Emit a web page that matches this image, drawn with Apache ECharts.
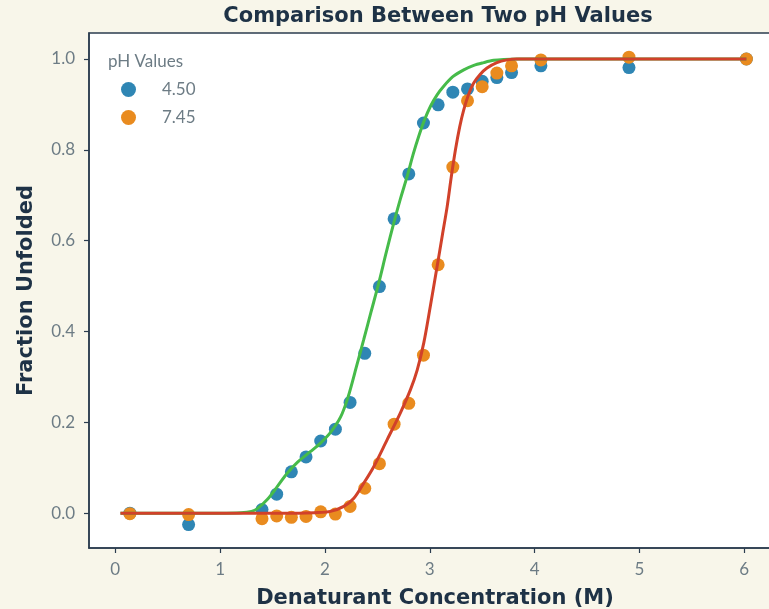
<!DOCTYPE html>
<html>
<head>
<meta charset="utf-8">
<script src="https://cdn.jsdelivr.net/npm/echarts@6/dist/echarts.min.js"></script>
<style>
  html, body { margin: 0; padding: 0; background: #f8f6ea; overflow: hidden; }
  #chart { width: 769px; height: 609px; }
</style>
</head>
<body>
<div id="chart"></div>
<script>
// Denaturant concentrations (M) shared by both measurement sets
const concentrations = [0.14, 0.70, 1.40, 1.54, 1.68, 1.82, 1.96, 2.10, 2.24, 2.38, 2.52, 2.66,
  2.80, 2.94, 3.08, 3.22, 3.36, 3.50, 3.64, 3.78, 4.06, 4.90, 6.02];

// Measured fraction unfolded at pH 4.50
const fractionPH450 = [0.000, -0.025, 0.008, 0.042, 0.091, 0.124, 0.159, 0.185, 0.244, 0.352, 0.499, 0.648,
  0.747, 0.859, 0.899, 0.927, 0.934, 0.951, 0.959, 0.970, 0.985, 0.981, 1.000];

// Measured fraction unfolded at pH 7.45
const fractionPH745 = [-0.001, -0.003, -0.012, -0.006, -0.009, -0.007, 0.003, -0.002, 0.015, 0.055, 0.109, 0.196,
  0.242, 0.348, 0.547, 0.762, 0.908, 0.939, 0.969, 0.985, 0.998, 1.004, 1.000];

// Fitted curve for pH 4.50: [concentration, fraction]
const fitPH450 = [[0.05, 0], [0.6, 0], [1.0, 0], [1.2, 0.001], [1.3, 0.004], [1.356, 0.010], [1.45, 0.030],
  [1.547, 0.059], [1.64, 0.088], [1.737, 0.112], [1.864, 0.136], [1.96, 0.155], [2.054, 0.178], [2.15, 0.212],
  [2.22, 0.255], [2.30, 0.322], [2.37, 0.382], [2.44, 0.443], [2.514, 0.507], [2.585, 0.574], [2.657, 0.639],
  [2.72, 0.692], [2.785, 0.742], [2.84, 0.789], [2.895, 0.830], [2.95, 0.866], [3.007, 0.896], [3.07, 0.921],
  [3.133, 0.940], [3.22, 0.961], [3.324, 0.976], [3.42, 0.986], [3.514, 0.992], [3.61, 0.997], [3.705, 0.999],
  [3.85, 1.0], [4.0, 1.0], [4.5, 1.0], [5.0, 1.0], [5.5, 1.0], [6.02, 1.0]];

// Fitted curve for pH 7.45: [concentration, fraction]
const fitPH745 = [[0.05, 0], [0.6, 0], [1.1, 0], [1.5, 0], [1.75, 0], [1.9, 0.001], [2.054, 0.004], [2.18, 0.015],
  [2.276, 0.033], [2.37, 0.066], [2.467, 0.103], [2.594, 0.162], [2.72, 0.221], [2.816, 0.272], [2.88, 0.315],
  [2.943, 0.375], [3.005, 0.455], [3.07, 0.543], [3.12, 0.612], [3.166, 0.675], [3.205, 0.740], [3.245, 0.800],
  [3.285, 0.850], [3.324, 0.888], [3.37, 0.922], [3.419, 0.947], [3.48, 0.966], [3.546, 0.980], [3.64, 0.992],
  [3.737, 0.998], [3.83, 1.0], [3.93, 1.0], [4.3, 1.0], [5.0, 1.0], [5.5, 1.0], [6.02, 1.0]];

const xTicks = [0, 1, 2, 3, 4, 5, 6];
const yTicks = [0, 0.2, 0.4, 0.6, 0.8, 1.0];
const seriesNames = ['4.50', '7.45'];

const pair = (xs, ys) => xs.map((x, i) => [x, ys[i]]);

const titleFont = 'DejaVu Sans';
const tickFont = 'Lato';
const navy = '#1e3246';
const tickGray = '#6d7c85';
const spine = '#2b3d4f';

const chart = echarts.init(document.getElementById('chart'), null, { renderer: 'canvas', width: 769, height: 609 });

chart.setOption({
  backgroundColor: '#f8f6ea',
  animation: false,
  title: [
    {
      text: 'Comparison Between Two pH Values',
      left: 433, top: 1, textAlign: 'center',
      textStyle: { fontFamily: titleFont, fontWeight: 'bold', fontSize: 21, color: navy }
    },
    {
      text: 'pH Values',
      left: 103, top: 48,
      textStyle: { fontFamily: tickFont, fontWeight: 'normal', fontSize: 17, color: tickGray }
    }
  ],
  legend: {
    data: seriesNames,
    orient: 'vertical',
    left: 116, top: 76,
    icon: 'circle',
    itemWidth: 15, itemHeight: 15,
    itemGap: 11,
    textStyle: { fontFamily: tickFont, fontSize: 17, color: tickGray, padding: [0, 0, 0, 21] }
  },
  grid: {
    left: 89, top: 33, right: -12, bottom: 61,
    outerBoundsMode: 'none',
    containLabel: false,
    show: true, backgroundColor: '#ffffff',
    borderColor: spine, borderWidth: 1.5
  },
  xAxis: {
    type: 'value',
    min: -0.25, max: 6.35,
    name: 'Denaturant Concentration (M)',
    nameLocation: 'middle', nameGap: 40,
    nameTextStyle: { fontFamily: titleFont, fontWeight: 'bold', fontSize: 21, color: navy },
    splitLine: { show: false },
    axisLine: { show: true, onZero: false, lineStyle: { color: spine, width: 1.5 } },
    axisTick: { show: true, length: 5, customValues: xTicks, lineStyle: { color: spine, width: 1.2 } },
    axisLabel: { customValues: xTicks, fontFamily: tickFont, fontSize: 17, color: tickGray, margin: 13 }
  },
  yAxis: {
    type: 'value',
    min: -0.0766, max: 1.0572,
    name: 'Fraction Unfolded',
    nameLocation: 'middle', nameGap: 52,
    nameTextStyle: { fontFamily: titleFont, fontWeight: 'bold', fontSize: 21, color: navy },
    splitLine: { show: false },
    axisLine: { show: true, onZero: false, lineStyle: { color: spine, width: 1.5 } },
    axisTick: { show: true, length: 5, customValues: yTicks, lineStyle: { color: spine, width: 1.2 } },
    axisLabel: {
      customValues: yTicks, fontFamily: tickFont, fontSize: 17, color: tickGray, margin: 14,
      formatter: v => v.toFixed(1)
    }
  },
  series: [
    {
      name: seriesNames[0], type: 'scatter', symbolSize: 13,
      itemStyle: { color: '#2f86b4', opacity: 1 }, z: 2,
      data: pair(concentrations, fractionPH450)
    },
    {
      name: seriesNames[1], type: 'scatter', symbolSize: 13,
      itemStyle: { color: '#e98b1f', opacity: 1 }, z: 3,
      data: pair(concentrations, fractionPH745)
    },
    {
      name: 'fit 4.50', type: 'line', showSymbol: false, smooth: 0.3,
      lineStyle: { color: '#46bb4a', width: 3 }, z: 4,
      data: fitPH450
    },
    {
      name: 'fit 7.45', type: 'line', showSymbol: false, smooth: 0.3,
      lineStyle: { color: '#d1412a', width: 3 }, z: 5,
      data: fitPH745
    }
  ]
});
</script>
</body>
</html>
